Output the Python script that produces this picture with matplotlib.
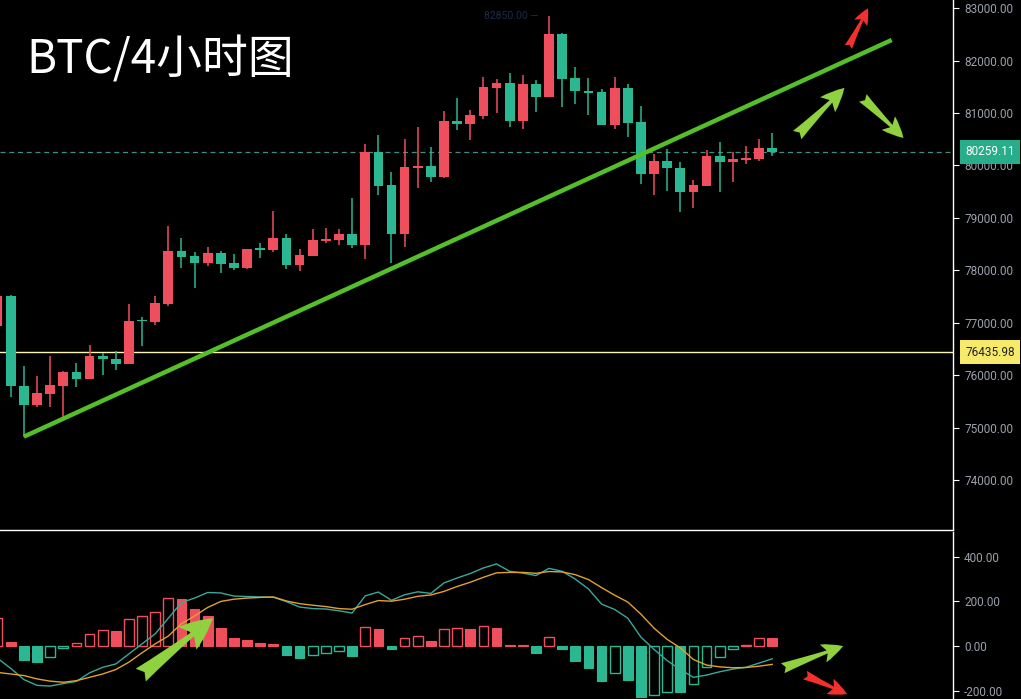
import numpy as np
import matplotlib
matplotlib.use("Agg")
from matplotlib import pyplot as plt
from matplotlib import transforms

plt.rcParams['font.family'] = ['Roboto', 'DejaVu Sans']

# 4h candles, oldest first (index 0 is cut at the left edge)
opens = [76943, 77510, 75800, 75435, 75645, 75800, 76060, 75930, 76365, 76315,
         76220, 77055, 77020, 77365, 78375, 78270, 78140, 78330, 78140, 78045,
         78425, 78390, 78615, 78100, 78280, 78565, 78580, 78695, 78490, 80260,
         79630, 78695, 79960, 79995, 79785, 80850, 80790, 80945, 81480, 81575,
         80855, 81560, 81315, 82515, 81670, 81425, 81405, 80780, 81480, 80830,
         79830, 80085, 79950, 79500, 79615, 80180, 80075, 80110, 80125, 80335]
highs = [77600, 77520, 76170, 75975, 76365, 76085, 76230, 76570, 76420, 76465,
         77355, 77115, 77510, 78850, 78610, 78350, 78440, 78370, 78310, 78410,
         78525, 79130, 78690, 78400, 78790, 78815, 78790, 79375, 80410, 80590,
         79870, 80500, 80735, 80360, 81040, 81290, 81060, 81695, 81645, 81770,
         81725, 81625, 82850, 82520, 81880, 81670, 81460, 81685, 81555, 81135,
         80215, 80320, 80075, 79725, 80295, 80455, 80250, 80365, 80500, 80620]
lows = [76900, 75590, 74825, 75385, 75385, 75205, 75765, 75920, 76000, 76095,
        76210, 76560, 76955, 77320, 78045, 77660, 78090, 77955, 78005, 78030,
        78235, 78345, 78025, 77990, 78270, 78515, 78490, 78420, 78210, 79435,
        78135, 78440, 79565, 79690, 79755, 80680, 80485, 80885, 81010, 80740,
        80690, 81025, 81300, 81110, 81175, 80965, 80770, 80690, 80540, 79655,
        79445, 79520, 79120, 79195, 79610, 79495, 79685, 80035, 80080, 80185]
closes = [77510, 75800, 75435, 75655, 75810, 76060, 75930, 76365, 76300, 76220,
          77030, 77025, 77375, 78375, 78260, 78145, 78330, 78125, 78045, 78405,
          78390, 78615, 78100, 78290, 78575, 78595, 78695, 78490, 80260, 79615,
          78695, 79975, 79995, 79785, 80850, 80790, 80965, 81500, 81575, 80855,
          81560, 81315, 82515, 81655, 81415, 81390, 80780, 81480, 80815, 79830,
          80085, 79945, 79500, 79620, 80180, 80075, 80125, 80150, 80335, 80259.11]

# MACD
dif = [-55, -100, -150, -176, -179, -168, -158, -120, -95, -80,
       -35, 10, 55, 125, 195, 215, 240, 238, 224, 222,
       220, 219, 199, 175, 168, 166, 158, 148, 225, 242,
       205, 230, 243, 236, 283, 305, 325, 350, 368, 335,
       327, 316, 348, 335, 300, 256, 188, 164, 125, 40,
       -15, -65, -105, -140, -130, -115, -103, -95, -76, -57]
dea = [-118, -125, -132, -147, -157, -162, -155, -140, -125, -105,
       -72, -30, 10, 45, 100, 135, 173, 200, 210, 215,
       218, 220, 202, 190, 183, 177, 168, 165, 186, 204,
       201, 210, 223, 229, 245, 267, 286, 308, 328, 330,
       330, 326, 334, 332, 320, 298, 262, 228, 197, 143,
       80, 30, -8, -60, -85, -93, -97, -96, -90, -82]
hist = [128, 18, -63, -72, -48, -8, 12, 52, 72, 69,
        121, 133, 152, 214, 209, 166, 134, 81, 36, 27,
        13, 9, -39, -52, -39, -33, -24, -43, 84, 76,
        -15, 34, 43, 22, 76, 79, 76, 88, 82, 5,
        5, -30, 39, -13, -66, -97, -155, -122, -151, -227,
        -217, -204, -205, -172, -93, -48, -13, 7, 34, 34]

price_ticks = [74000, 75000, 76000, 77000, 78000, 79000, 80000, 81000, 82000, 83000]
macd_ticks = [-200, 0, 200, 400]
last_price = 80259.11
level_price = 76435.98
high_label = "82850.00"
title = "BTC/4小时图"

# trend line and arrows (candle index, price)
trend = [(2.0, 74825), (68.1, 82395)]
arrows_main = [((60.9, 80580), (64.5, 81480), "#8fd13f", 19),
               ((65.9, 81290), (69.0, 80525), "#8fd13f", 17),
               ((64.8, 82260), (66.3, 83000), "#f2312e", 13)]
arrows_macd = [((10.9, -130), (16.4, 125), "#8fd13f", 26),
               ((59.8, -99), (64.4, 0), "#8fd13f", 17),
               ((61.5, -130), (64.7, -215), "#f2312e", 15)]

UP = "#ef4f5d"
DOWN = "#2bb791"
BG = "black"
TXT = "#9aa0ab"

fig = plt.figure(figsize=(10.21, 6.99), dpi=100, facecolor=BG)
ax = fig.add_axes([0, (699 - 530) / 699, 953 / 1021, 530 / 699])
ax2 = fig.add_axes([0, 0, 953 / 1021, (699 - 532) / 699])

idx = np.arange(len(opens))
o = np.array(opens)
c = np.array(closes)
h = np.array(highs)
l = np.array(lows)
cols = np.where(c >= o, UP, DOWN)

ax.vlines(idx, l, h, colors=cols, linewidth=1.1, zorder=2)
body_h = np.abs(c - o)
body_h = np.maximum(body_h, 25)
ax.bar(idx, body_h, bottom=np.minimum(o, c), width=0.74, color=cols, zorder=3)

# trend line
ax.plot([trend[0][0], trend[1][0]], [trend[0][1], trend[1][1]],
        color="#55bf2a", linewidth=3.2, solid_capstyle="butt", zorder=4)

# reference levels
ax.axhline(last_price, color="#3f8f82", linewidth=0.9, linestyle=(0, (4, 3)), zorder=1)
ax.axhline(level_price, color="#fdf7b5", linewidth=1.0, zorder=1)


def draw_arrows(a, items):
    for tail, head, col, ms in items:
        a.annotate("", xy=head, xytext=tail,
                   arrowprops=dict(arrowstyle="fancy,head_length=0.9,head_width=0.8,tail_width=0.45",
                                   fc=col, ec="none", shrinkA=0, shrinkB=0,
                                   mutation_scale=ms), zorder=5)


draw_arrows(ax, arrows_main)

ax.set_xlim(0.18, 72.77)
ax.set_ylim(73044, 83158)
ax.set_facecolor(BG)

# high marker
ax.text(42 - 0.8, 82850, high_label + " \u2014", color="#1d2a48", fontsize=7.5,
        ha="right", va="center", zorder=5)

ax.text(0.028, 0.886, title, transform=ax.transAxes, color="white", fontsize=33,
        family=["Noto Sans CJK SC", "DejaVu Sans"], ha="left", va="center")

# MACD panel
hv = np.array(hist)
prev = np.concatenate([[0], hv[:-1]])
for i, v in enumerate(hv):
    if v >= 0:
        col = UP
        filled = v <= prev[i]
    else:
        col = DOWN
        filled = v < prev[i]
    if filled:
        ax2.bar(i, v, width=0.74, color=col, edgecolor=col, linewidth=0.8)
    else:
        ax2.bar(i, v, width=0.74, facecolor="none", edgecolor=col, linewidth=1.0)

ax2.plot(idx, dif, color="#3aa89a", linewidth=1.0)
ax2.plot(idx, dea, color="#e2a12e", linewidth=1.0)

draw_arrows(ax2, arrows_macd)

ax2.set_xlim(0.18, 72.77)
ax2.set_ylim(-237, 511)
ax2.set_facecolor(BG)

for a, ticks in ((ax, price_ticks), (ax2, macd_ticks)):
    a.yaxis.tick_right()
    a.set_yticks(ticks)
    a.set_yticklabels(["%.2f" % t for t in ticks])
    a.tick_params(axis="y", colors="white", labelcolor=TXT, length=4, width=0.8,
                  pad=4, labelsize=8.5)
    a.set_xticks([])
    for s in ("left", "top", "bottom"):
        a.spines[s].set_visible(False)
    a.spines["right"].set_color("white")
    a.spines["right"].set_linewidth(1.0)
ax.spines["bottom"].set_visible(True)
ax.spines["bottom"].set_color("white")
ax.spines["bottom"].set_linewidth(1.0)

# price tags on the axis
ytr = transforms.blended_transform_factory(ax.transAxes, ax.transData)
ax.text(1.013, last_price, "%.2f" % last_price, transform=ytr, color="white",
        fontsize=8.5, ha="left", va="center", zorder=6,
        bbox=dict(boxstyle="square,pad=0.45", fc="#28ad8a", ec="none"))
ax.text(1.013, level_price, "%.2f" % level_price, transform=ytr, color="#222222",
        fontsize=8.5, ha="left", va="center", zorder=6,
        bbox=dict(boxstyle="square,pad=0.45", fc="#f7e96a", ec="none"))

fig.savefig("out.png", dpi=100, facecolor=BG)
